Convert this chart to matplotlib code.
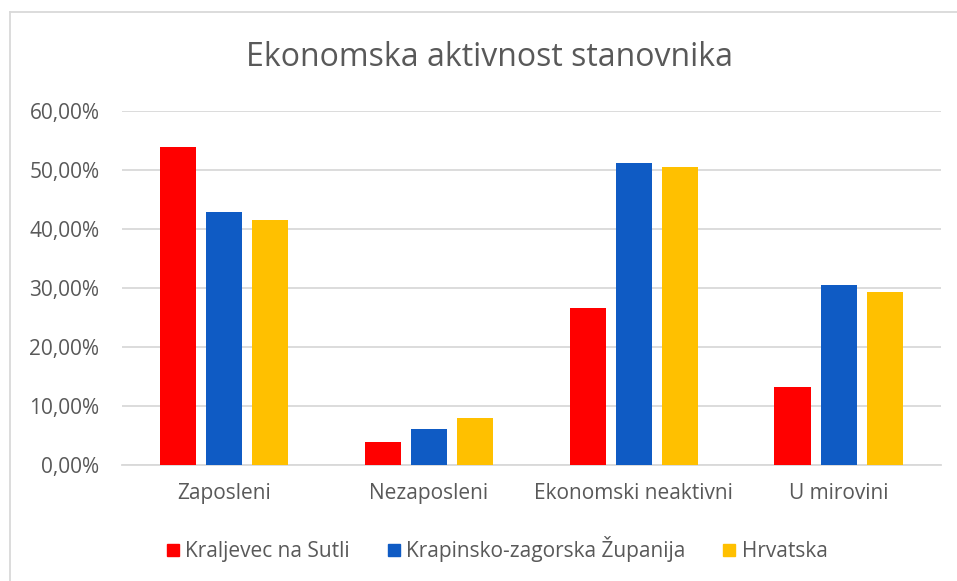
import matplotlib

matplotlib.use("Agg")

import matplotlib.pyplot as plt
import numpy as np
from matplotlib.lines import Line2D
from matplotlib.ticker import FuncFormatter

categories = ["Zaposleni", "Nezaposleni", "Ekonomski neaktivni", "U mirovini"]
series_names = ["Kraljevec na Sutli", "Krapinsko-zagorska Županija", "Hrvatska"]
kraljevec = [53.9, 3.85, 26.5, 13.2]
krapinsko = [42.8, 6.1, 51.1, 30.5]
hrvatska = [41.4, 8.0, 50.45, 29.3]
yticks = [0, 10, 20, 30, 40, 50, 60]

colors = ["#ff0000", "#0f5bc4", "#ffc000"]
text_c = "#595959"
grid_c = "#d9d9d9"

plt.rcParams["font.family"] = ["Open Sans", "DejaVu Sans"]

fig = plt.figure(figsize=(9.57, 5.81), dpi=100)
ax = fig.add_axes([121.7 / 957, 1 - 464.7 / 581, (941 - 121.7) / 957, 354 / 581])

x = np.arange(len(categories))
width = 0.176
offsets = [-0.225, 0.0, 0.225]
for vals, off, col, name in zip([kraljevec, krapinsko, hrvatska], offsets, colors, series_names):
    ax.bar(x + off, vals, width, color=col, label=name, zorder=3)

ax.set_xlim(-0.5, len(categories) - 0.5)
ax.set_ylim(0, 60)
ax.set_yticks(yticks)
ax.yaxis.set_major_formatter(FuncFormatter(lambda v, _: f"{v:.2f}%".replace(".", ",")))
ax.set_xticks(x)
ax.set_xticklabels(categories)
ax.grid(axis="y", color=grid_c, linewidth=1.3, zorder=0)
for s in ["top", "right", "left"]:
    ax.spines[s].set_visible(False)
ax.spines["bottom"].set_color(grid_c)
ax.spines["bottom"].set_linewidth(1.3)
ax.tick_params(axis="both", length=0, colors=text_c)
ax.tick_params(axis="x", pad=13, labelsize=15)
ax.tick_params(axis="y", pad=16, labelsize=15)

fig.text(490 / 957, 1 - 57 / 581, "Ekonomska aktivnost stanovnika", ha="center", va="center",
         fontsize=23, color=text_c)

handles = [Line2D([], [], marker="s", linestyle="", markersize=9, color=c) for c in colors]
fig.legend(handles, series_names, loc="center", bbox_to_anchor=(495 / 957, 1 - 549 / 581),
           ncol=3, frameon=False, fontsize=15, labelcolor=text_c, handletextpad=0.1,
           columnspacing=1.6, handlelength=1.0)

# chart border (top and left edges visible)
fig.add_artist(Line2D([9.5 / 957, 1], [1 - 12 / 581, 1 - 12 / 581], color=grid_c, linewidth=1.3))
fig.add_artist(Line2D([9.5 / 957, 9.5 / 957], [0, 1 - 12 / 581], color=grid_c, linewidth=1.3))

fig.savefig("out.png", dpi=100)
